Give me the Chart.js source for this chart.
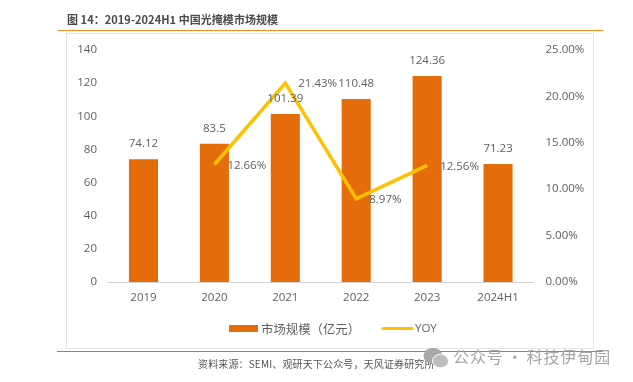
<!DOCTYPE html>
<html>
<head>
<meta charset="utf-8">
<script src="https://cdn.jsdelivr.net/npm/chart.js@4/dist/chart.umd.min.js"></script>
<style>
  html, body { margin: 0; padding: 0; background: #fff; overflow: hidden; }
  #wrap { position: relative; width: 633px; height: 382px; font-family: "Noto Sans CJK SC", sans-serif; }
  #frame { position: absolute; left: 66px; top: 33px; width: 528px; height: 316px; box-sizing: border-box; border: 1px solid #e4e4e4; }
  canvas { position: absolute; left: 0; top: 0; }
  .rule { position: absolute; height: 1px; }
  .txt { position: absolute; white-space: nowrap; line-height: 1; }
  #title { left: 67px; top: 14px; font-size: 11px; letter-spacing: 0.05px; font-weight: 700; color: #4a4a4a; }
  #source { left: 198px; top: 359px; font-size: 10px; letter-spacing: 0.15px; color: #555; }
  #mark { left: 453px; top: 348px; font-size: 16px; letter-spacing: 0.9px; word-spacing: -1.5px; color: #a6a6a6; }
  #icon { position: absolute; left: 423px; top: 347px; }
</style>
</head>
<body>
<div id="wrap">
  <div id="frame"></div>
  <canvas id="chart" width="633" height="382"></canvas>
  <div class="rule" style="left:58px;top:30px;width:545px;background:#f58a1f"></div>
  <div class="rule" style="left:57px;top:351px;width:546px;background:#e46c0a"></div>
  <div class="txt" id="title">图 14：2019-2024H1 中国光掩模市场规模</div>
  <div class="txt" id="source">资料来源：SEMI、观研天下公众号，天风证券研究所</div>
  <svg id="icon" width="26" height="22" viewBox="0 0 26 22">
    <ellipse cx="10" cy="9" rx="9.5" ry="8" fill="#a8a8a8"/>
    <ellipse cx="17.5" cy="14" rx="8" ry="6.8" fill="#bdbdbd" stroke="#fff" stroke-width="1"/>
  </svg>
  <div class="txt" id="mark">公众号 · 科技伊甸园</div>
</div>
<script>
const categories = ['2019', '2020', '2021', '2022', '2023', '2024H1']
const marketSize = [74.12, 83.5, 101.39, 110.48, 124.36, 71.23]
const yoy = [null, 12.66, 21.43, 8.97, 12.56, null]
const seriesNames = ['市场规模（亿元）', 'YOY']

const fontFamily = '"Open Sans", "Noto Sans CJK SC", sans-serif'
const textColor = '#606060'

// value labels and the legend are drawn by hand, the original has them overlapping the marks
const labelsPlugin = {
  id: 'labels',
  afterDatasetsDraw(chart) {
    const { ctx, scales } = chart
    ctx.save()
    ctx.font = '11.5px ' + fontFamily
    ctx.fillStyle = textColor
    ctx.textBaseline = 'middle'
    ctx.textAlign = 'center'
    marketSize.forEach((v, i) => {
      ctx.fillText(String(v), scales.x.getPixelForValue(i), scales.y.getPixelForValue(v) - 15)
    })
    ctx.textAlign = 'left'
    yoy.forEach((v, i) => {
      if (v === null) return
      ctx.fillText(v.toFixed(2) + '%', scales.x.getPixelForValue(i) + 13, scales.y1.getPixelForValue(v) + 1)
    })

    // legend
    ctx.fillStyle = '#e46c0a'
    ctx.fillRect(229, 325, 29, 7)
    ctx.fillStyle = textColor
    ctx.font = '12.4px "Noto Sans CJK SC", sans-serif'
    ctx.fillText(seriesNames[0], 261, 329)
    ctx.strokeStyle = '#ffc000'
    ctx.lineWidth = 3
    ctx.lineCap = 'round'
    ctx.beginPath()
    ctx.moveTo(383, 328.5)
    ctx.lineTo(412, 328.5)
    ctx.stroke()
    ctx.font = '11.5px ' + fontFamily
    ctx.fillText(seriesNames[1], 415, 329)
    ctx.restore()
  }
}

const ctx = document.querySelector('#chart').getContext('2d')
new Chart(ctx, {
  data: {
    labels: categories,
    datasets: [
      {
        type: 'line',
        label: seriesNames[1],
        data: yoy,
        yAxisID: 'y1',
        borderColor: '#ffc000',
        borderWidth: 3.5,
        pointRadius: 0,
        tension: 0,
        order: 1
      },
      {
        type: 'bar',
        label: seriesNames[0],
        data: marketSize,
        yAxisID: 'y',
        backgroundColor: '#e46c0a',
        borderWidth: 0,
        barPercentage: 0.41,
        categoryPercentage: 1,
        order: 2
      }
    ]
  },
  options: {
    responsive: false,
    animation: false,
    layout: { padding: { left: 0, right: 0, top: 50, bottom: 0 } },
    plugins: { legend: { display: false }, tooltip: { enabled: false } },
    scales: {
      x: {
        grid: { display: false, drawTicks: false },
        border: { color: '#d0d0d0' },
        ticks: { color: textColor, font: { family: fontFamily, size: 11.5 }, padding: 9, maxRotation: 0 },
        afterFit(s) { s.height = 100 }
      },
      y: {
        position: 'left',
        min: 0,
        max: 140,
        grid: { display: false, drawTicks: false },
        border: { display: false },
        ticks: { stepSize: 20, color: textColor, font: { family: fontFamily, size: 11.5 }, padding: 11 },
        afterFit(s) { s.width = 108 }
      },
      y1: {
        position: 'right',
        min: 0,
        max: 25,
        grid: { display: false, drawTicks: false },
        border: { display: false },
        ticks: {
          stepSize: 5,
          color: textColor,
          font: { family: fontFamily, size: 11.5 },
          padding: 12,
          callback: (v) => v.toFixed(2) + '%'
        },
        afterFit(s) { s.width = 99.5 }
      }
    }
  },
  plugins: [labelsPlugin]
})
</script>
</body>
</html>
